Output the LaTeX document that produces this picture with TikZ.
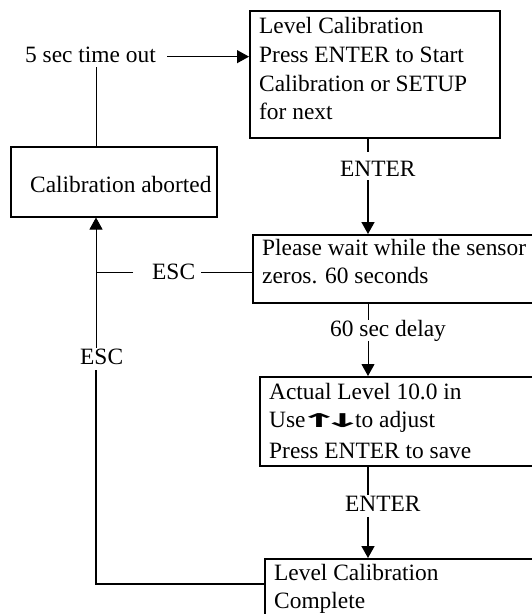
\documentclass[tikz,border=0pt]{standalone}
\usepackage{fontspec}
\setmainfont{Liberation Serif}
\newfontfamily\arrowfont{DejaVu Sans Bold}[FakeStretch=2.6]
\usetikzlibrary{arrows.meta}
\begin{document}
\begin{tikzpicture}[x=1pt,y=-1pt,
  every node/.style={font=\fontsize{23.4}{28}\selectfont},
  box/.style={draw,line width=1.5pt,rectangle,inner sep=0pt,anchor=north west},
  txt/.style={inner sep=0pt,anchor=base west},
  lbl/.style={inner sep=0pt,anchor=base west},
  thinline/.style={line width=1pt},
  thickline/.style={line width=1.6pt},
  arr/.style={-{Triangle[length=12pt,width=13pt]}}]
\clip (0,0) rectangle (532,614);
\fill[white] (0,0) rectangle (532,614);
\coordinate (vx) at (96,0);
\coordinate (ax) at (368,0);
% boxes
\node[box,minimum width=250pt,minimum height=127pt] (b1) at (249,10) {};
\node[box,minimum width=206pt,minimum height=70pt] (ab) at (10,146) {};
\node[box,minimum width=300pt,minimum height=68pt] (b2) at (252,234) {};
\node[box,minimum width=300pt,minimum height=89pt] (b3) at (259,376) {};
\node[box,minimum width=300pt,minimum height=100pt] (b4) at (264,558) {};
% box texts
\node[txt] (b1a) at (259,33) {Level Calibration};
\node[txt] (b1b) at (259,62.5) {Press ENTER to Start};
\node[txt] (b1c) at (259,91.5) {Calibration or SETUP};
\node[txt] (b1d) at (259,119.5) {for next};
\node[txt] (aba) at (30,192.7) {Calibration aborted};
\node[txt] (b2a) at (262,255) {Please wait while the sensor};
\node[txt] (b2b) at (262,283.3) {zeros. 60 seconds};
\node[txt] (b3a) at (269,399) {Actual Level 10.0 in};
\node[txt] (b3b) at (269,427) {Use {\arrowfont\fontsize{19}{28}\selectfont\kern-13pt↑\kern-18pt↓\kern-14pt} to adjust};
\node[txt] (b3c) at (269,458) {Press ENTER to save};
\node[txt] (b4a) at (274,580) {Level Calibration};
\node[txt] (b4b) at (274,608) {Complete};
% labels
\node[lbl,text height=16pt,text depth=4.7pt] (t5) at (25,62.3) {5 sec time out};
\node[lbl,text height=16pt,text depth=3pt] (e1) at (152,279) {ESC};
\node[lbl,text height=16pt,text depth=6pt] (e2) at (80,364) {ESC};
\node[lbl,text height=24.7pt,text depth=3.3pt] (n1) at (340,176.7) {ENTER};
\node[lbl,text height=16pt,text depth=4.7pt] (d1) at (330,336) {60 sec delay};
\node[lbl,text height=16.7pt,text depth=5pt] (n2) at (345,511.7) {ENTER};
% connectors
\draw[thinline] (ab.north -| vx) -- (t5.south -| vx);
\draw[thinline,arr] ([xshift=11pt]t5.east) -- (t5.east -| b1.west);
\draw[thickline] (b1.south -| ax) -- (n1.north -| ax);
\draw[thickline,arr] (n1.south -| ax) -- (b2.north -| ax);
\draw[thinline] (b2.south -| ax) -- (d1.north -| ax);
\draw[thinline,arr] (d1.south -| ax) -- (b3.north -| ax);
\draw[thickline] (b3.south -| ax) -- (n2.north -| ax);
\draw[thickline,arr] (n2.south -| ax) -- (b4.north -| ax);
\draw[thinline] (e1.east -| b2.west) -- ([xshift=5.7pt]e1.east);
\draw[thinline] ([xshift=-19pt]e1.west) -- (e1.west -| vx);
\draw[thickline] ([yshift=-26pt]b4.north west) -| (e2.south -| vx);
\draw[thinline,arr] (e2.north -| vx) -- (ab.south -| vx);
\end{tikzpicture}
\end{document}
